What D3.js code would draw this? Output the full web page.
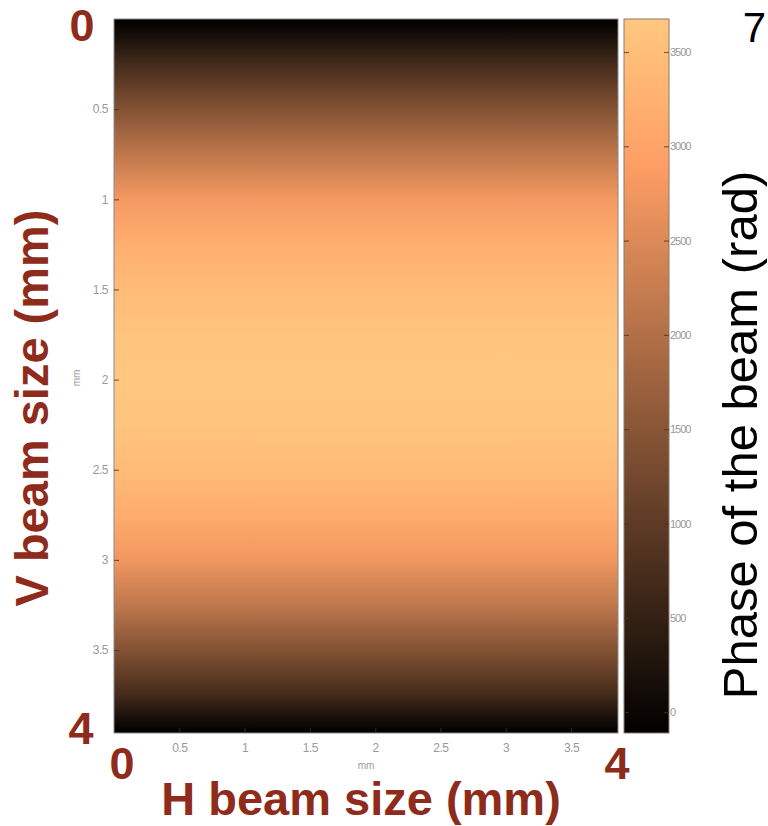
<!DOCTYPE html>
<html>
<head>
<meta charset="utf-8">
<script src="https://cdn.jsdelivr.net/npm/d3@7"></script>
<style>
  body { margin: 0; background: #fff; }
  text { font-family: "Liberation Sans", Arial, sans-serif; }
</style>
</head>
<body>
<svg id="chart" width="768" height="826"></svg>
<script>
// V position (mm) of each sampled row, and the phase read at that row (rad)
var rowPos = [0, 0.1, 0.25, 0.5, 0.75, 1, 1.25, 1.5, 1.75, 2, 2.25, 2.5, 2.75, 3, 3.25, 3.5, 3.75, 3.88, 3.96];
var rowPhase = [-110, 180, 700, 1450, 2150, 2800, 3200, 3450, 3620, 3675, 3620, 3450, 3150, 2750, 2150, 1450, 700, 150, -110];

var axisTicks = [0.5, 1, 1.5, 2, 2.5, 3, 3.5];
var barTicks = [0, 500, 1000, 1500, 2000, 2500, 3000, 3500];
var phaseRange = [-111, 3675];

var red = "#8e2b1b";
var svg = d3.select("#chart");

var plot = { left: 114, right: 618, top: 19, bottom: 733 };
var bar = { left: 624, right: 669 };

var x = d3.scaleLinear().domain([0, 3.86]).range([plot.left, plot.right]);
var y = d3.scaleLinear().domain([0, 3.96]).range([plot.top, plot.bottom]);
var c = d3.scaleLinear().domain(phaseRange).range([plot.bottom, plot.top]);

// matlab copper colormap
var copper = function (t) {
    t = Math.max(0, Math.min(1, t));
    return d3.rgb(Math.min(1, 1.25 * t) * 255, 0.7812 * t * 255, 0.4975 * t * 255).toString();
};
var color = d3.scaleSequential(copper).domain(phaseRange);

var defs = svg.append("defs");

var fieldGrad = defs.append("linearGradient")
    .attr("id", "field")
    .attr("x1", 0).attr("x2", 0).attr("y1", 0).attr("y2", 1);
fieldGrad.selectAll("stop")
    .data(rowPos)
    .join("stop")
    .attr("offset", d => (y(d) - plot.top) / (plot.bottom - plot.top))
    .attr("stop-color", (d, i) => color(rowPhase[i]));

var barGrad = defs.append("linearGradient")
    .attr("id", "bar")
    .attr("x1", 0).attr("x2", 0).attr("y1", 1).attr("y2", 0);
barGrad.selectAll("stop")
    .data([0, 0.2, 0.4, 0.6, 0.8, 0.9, 1])
    .join("stop")
    .attr("offset", d => d)
    .attr("stop-color", d => copper(d));

// image
svg.append("rect")
    .attr("x", plot.left).attr("y", plot.top)
    .attr("width", plot.right - plot.left).attr("height", plot.bottom - plot.top)
    .attr("fill", "url(#field)")
    .attr("stroke", "#8a8a8a").attr("stroke-width", 1);

// colorbar
svg.append("rect")
    .attr("x", bar.left).attr("y", plot.top)
    .attr("width", bar.right - bar.left).attr("height", plot.bottom - plot.top)
    .attr("fill", "url(#bar)")
    .attr("stroke", "#8a7a6a").attr("stroke-width", 1);

var styleAxis = function (g) {
    g.select(".domain").remove();
    g.selectAll(".tick line").attr("stroke", "#4a3020").attr("stroke-width", 1.2).attr("opacity", 0.7);
    g.selectAll(".tick text")
        .attr("fill", "#999")
        .attr("font-size", "12px")
        .attr("letter-spacing", "-0.5px");
};

var fmt = d3.format("");

svg.append("g")
    .attr("transform", `translate(${plot.left},0)`)
    .call(d3.axisLeft(y).tickValues(axisTicks).tickFormat(fmt).tickSize(-5).tickPadding(6))
    .call(styleAxis);

svg.append("g")
    .attr("transform", `translate(0,${plot.bottom})`)
    .call(d3.axisBottom(x).tickValues(axisTicks).tickFormat(fmt).tickSize(-5).tickPadding(10))
    .call(styleAxis);

svg.append("g")
    .attr("transform", `translate(${bar.right},0)`)
    .call(d3.axisRight(c).tickValues(barTicks).tickFormat(fmt).tickSize(-5).tickPadding(1))
    .call(styleAxis)
    .call(g => g.selectAll(".tick text").attr("font-size", "11px").attr("letter-spacing", "-1px"));

svg.append("g")
    .attr("transform", `translate(${bar.left},0)`)
    .call(d3.axisRight(c).tickValues(barTicks).tickSize(5).tickFormat(""))
    .call(styleAxis);

// small unit labels
svg.append("text")
    .attr("x", 366).attr("y", 769)
    .attr("text-anchor", "middle")
    .attr("font-size", "10px").attr("fill", "#999")
    .text("mm");

svg.append("text")
    .attr("transform", "translate(80,378) rotate(-90)")
    .attr("text-anchor", "middle")
    .attr("font-size", "10px").attr("fill", "#999")
    .text("mm");

// big annotations
var big = function (tx, ty, s) {
    svg.append("text")
        .attr("x", tx).attr("y", ty)
        .attr("text-anchor", "middle")
        .attr("font-size", "45px").attr("font-weight", "bold")
        .attr("fill", red)
        .text(s);
};
big(82, 41, "0");
big(81, 744, "4");
big(122, 779, "0");
big(617, 779, "4");

svg.append("text")
    .attr("x", 361).attr("y", 815)
    .attr("text-anchor", "middle")
    .attr("font-size", "47px").attr("font-weight", "bold")
    .attr("fill", red)
    .text("H beam size (mm)");

svg.append("text")
    .attr("transform", "translate(48,408) rotate(-90)")
    .attr("text-anchor", "middle")
    .attr("font-size", "47px").attr("font-weight", "bold")
    .attr("fill", red)
    .text("V beam size (mm)");

svg.append("text")
    .attr("transform", "translate(757,435) rotate(-90)")
    .attr("text-anchor", "middle")
    .attr("font-size", "49px")
    .attr("fill", "#000")
    .text("Phase of the beam (rad)");

svg.append("text")
    .attr("x", 766).attr("y", 42)
    .attr("text-anchor", "end")
    .attr("font-size", "42px")
    .attr("fill", "#000")
    .text("7");
</script>
</body>
</html>
